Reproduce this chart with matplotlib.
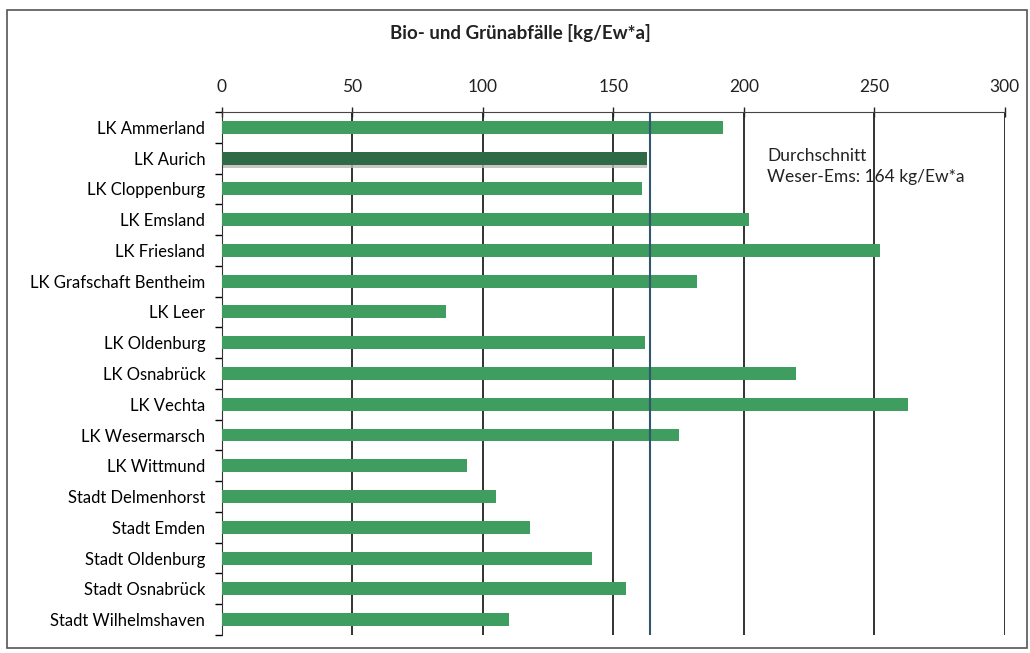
import matplotlib.pyplot as plt
import numpy as np
from matplotlib.patches import Rectangle

plt.rcParams['font.family'] = ['Lato', 'DejaVu Sans']

regions = ["LK Ammerland", "LK Aurich", "LK Cloppenburg", "LK Emsland",
           "LK Friesland", "LK Grafschaft Bentheim", "LK Leer", "LK Oldenburg",
           "LK Osnabrück", "LK Vechta", "LK Wesermarsch", "LK Wittmund",
           "Stadt Delmenhorst", "Stadt Emden", "Stadt Oldenburg",
           "Stadt Osnabrück", "Stadt Wilhelmshaven"]
values = [192, 163, 161, 202, 252, 182, 86, 162, 220, 263, 175, 94,
          105, 118, 142, 155, 110]
highlight = "LK Aurich"
average = 164
x_ticks = [0, 50, 100, 150, 200, 250, 300]

green = "#3f9d60"
dark_green = "#2d6a45"

fig = plt.figure(figsize=(10.3, 6.53), dpi=100)
ax = fig.add_axes([0.2155, 0.0276, 0.760, 0.8009])

y = np.arange(len(regions))
colors = [dark_green if r == highlight else green for r in regions]

# soft shadow under the highlighted bar
hi = regions.index(highlight)
ax.barh(hi + 0.12, values[hi], height=0.42, color="#bdb6b6", alpha=0.8,
        zorder=2, linewidth=0)
ax.barh(y, values, height=0.42, color=colors, zorder=3, linewidth=0)

for xt in x_ticks[1:]:
    ax.axvline(xt, color="#222222", lw=1.3, zorder=1)
ax.axvline(average, color="#33566f", lw=1.5, zorder=4)

ax.set_xlim(0, 300)
ax.set_ylim(len(regions) - 0.5, -0.5)
ax.xaxis.tick_top()
ax.set_xticks(x_ticks)
ax.tick_params(axis="x", direction="inout", length=7, width=1, pad=9,
               labelsize=12.5, colors="#222222")
ax.set_yticks(y)
ax.set_yticklabels(regions, fontsize=12)
ax.tick_params(axis="y", length=0, pad=12)
ax.set_yticks(np.arange(len(regions) + 1) - 0.5, minor=True)
ax.tick_params(axis="y", which="minor", direction="out", length=5, width=1)

for side in ("right", "bottom"):
    ax.spines[side].set_visible(False)
ax.spines["top"].set_color("#444444")
ax.spines["left"].set_color("#333333")

ax.text(209, 0.68, "Durchschnitt\nWeser-Ems: 164 kg/Ew*a", fontsize=12.5,
        va="top", ha="left", color="#222222", linespacing=1.35, zorder=5)

fig.text(0.505, 0.950, "Bio- und Grünabfälle [kg/Ew*a]", ha="center",
         va="center", fontsize=13.5, fontweight="bold", color="#222222")

fig.patches.append(Rectangle((0.007, 0.008), 0.99, 0.977,
                             transform=fig.transFigure, fill=False,
                             edgecolor="#555555", lw=1.2))

fig.savefig("out.png", dpi=100)
